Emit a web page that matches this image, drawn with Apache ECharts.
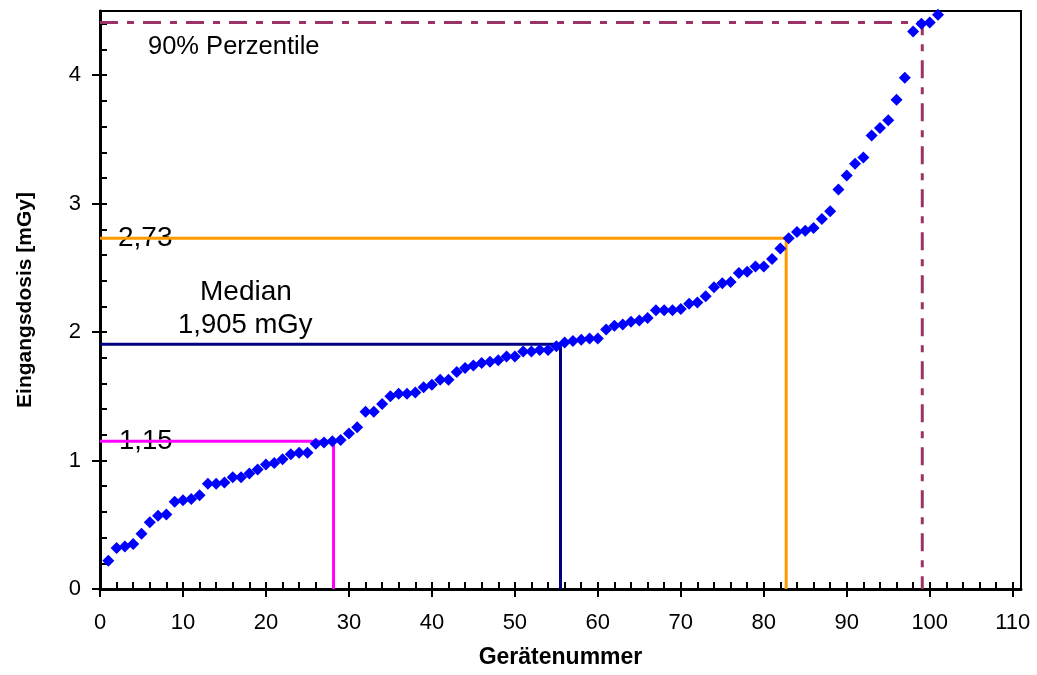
<!DOCTYPE html>
<html>
<head>
<meta charset="utf-8">
<script src="https://cdn.jsdelivr.net/npm/echarts@6/dist/echarts.min.js"></script>
<style>
  html, body { margin: 0; padding: 0; background: #fff; }
  #chart { width: 1037px; height: 675px; }
</style>
</head>
<body>
<div id="chart"></div>
<script>
// Eingangsdosis je Gerät, aufsteigend sortiert (Gerät 1..101 sichtbar)
const doseValues = [
  0.22, 0.32, 0.33, 0.35, 0.43, 0.52, 0.57, 0.58, 0.68, 0.69,
  0.70, 0.73, 0.82, 0.82, 0.83, 0.87, 0.87, 0.90, 0.93, 0.97,
  0.98, 1.01, 1.05, 1.06, 1.06, 1.13, 1.14, 1.15, 1.16, 1.21,
  1.26, 1.38, 1.38, 1.44, 1.50, 1.52, 1.52, 1.53, 1.57, 1.59,
  1.63, 1.63, 1.69, 1.72, 1.74, 1.76, 1.77, 1.78, 1.81, 1.81,
  1.85, 1.85, 1.86, 1.86, 1.89, 1.92, 1.93, 1.94, 1.95, 1.95,
  2.02, 2.05, 2.06, 2.08, 2.09, 2.11, 2.17, 2.17, 2.17, 2.18,
  2.22, 2.23, 2.28, 2.35, 2.38, 2.39, 2.46, 2.47, 2.51, 2.51,
  2.57, 2.65, 2.73, 2.78, 2.79, 2.81, 2.88, 2.94, 3.11, 3.22,
  3.31, 3.36, 3.53, 3.59, 3.65, 3.81, 3.98, 4.34, 4.40, 4.41,
  4.47
];
// [Gerätenummer, Dosis]
const quartile25 = [28.15, 1.15];
const median = [55.5, 1.905];
const quartile75 = [82.7, 2.73];
const percentile90 = [99.1, 4.41];

const xTicks = { min: 0, max: 111, major: 10, minor: 2 };
const yTicks = { min: 0, max: 4.5, major: 1, minor: 0.2 };

const font = "'Liberation Sans', Arial, sans-serif";

/** Linie von der y-Achse zum Punkt und senkrecht zur x-Achse */
function cornerLine(p) {
  return [[0, p[1]], [p[0], p[1]], [p[0], 0]];
}

function refSeries(p, color, type) {
  return {
    type: "line",
    xAxisIndex: 1,
    yAxisIndex: 1,
    data: cornerLine(p),
    symbol: "none",
    silent: true,
    z: 2,
    lineStyle: { color: color, width: 3, type: type || "solid" },
  };
}

function text(str, x, y, size) {
  return {
    type: "text",
    left: x,
    top: y - size / 2,
    style: { text: str, font: size + "px " + font, fill: "#000" },
  };
}

const chart = echarts.init(document.getElementById("chart"));
chart.setOption({
  backgroundColor: "#fff",
  animation: false,
  grid: {
    left: 100,
    right: 16,
    top: 11,
    bottom: 86,
    outerBoundsMode: "none",
    containLabel: false,
    show: true,
    borderColor: "#000",
    borderWidth: 2,
  },
  xAxis: [
    {
      // kleine Striche nach innen
      type: "value",
      position: "bottom",
      min: xTicks.min,
      max: xTicks.max,
      interval: xTicks.minor,
      axisLine: { show: true, lineStyle: { color: "#000", width: 3 } },
      axisTick: { show: true, inside: true, length: 7, lineStyle: { color: "#000", width: 2 } },
      axisLabel: { show: false },
      splitLine: { show: false },
    },
    {
      type: "value",
      position: "bottom",
      min: xTicks.min,
      max: xTicks.max,
      interval: xTicks.major,
      name: "Gerätenummer",
      nameLocation: "middle",
      nameGap: 57,
      nameTextStyle: { fontFamily: font, fontSize: 23, fontWeight: "bold", color: "#000" },
      axisLine: { show: false },
      axisTick: { show: true, inside: false, length: 8, lineStyle: { color: "#000", width: 2 } },
      axisLabel: { fontFamily: font, fontSize: 22, color: "#000", margin: 23, showMaxLabel: false },
      splitLine: { show: false },
    },
  ],
  yAxis: [
    {
      type: "value",
      position: "left",
      min: yTicks.min,
      max: yTicks.max,
      interval: yTicks.minor,
      axisLine: { show: true, lineStyle: { color: "#000", width: 3 } },
      axisTick: { show: true, inside: true, length: 7, lineStyle: { color: "#000", width: 2 } },
      axisLabel: { show: false },
      splitLine: { show: false },
    },
    {
      type: "value",
      position: "left",
      min: yTicks.min,
      max: yTicks.max,
      interval: yTicks.major,
      name: "Eingangsdosis [mGy]",
      nameLocation: "middle",
      nameGap: 64,
      nameTextStyle: { fontFamily: font, fontSize: 21, fontWeight: "bold", color: "#000" },
      axisLine: { show: false },
      axisTick: { show: true, inside: false, length: 8, lineStyle: { color: "#000", width: 2 } },
      axisLabel: { fontFamily: font, fontSize: 22, color: "#000", margin: 19, showMaxLabel: false },
      splitLine: { show: false },
    },
  ],
  series: [
    refSeries(quartile25, "#ff00ff"),
    refSeries(median, "#000080"),
    refSeries(quartile75, "#ff9900"),
    refSeries(percentile90, "#993366", [18, 9, 7, 9]),
    {
      type: "scatter",
      xAxisIndex: 1,
      yAxisIndex: 1,
      symbol: "diamond",
      symbolSize: 12,
      itemStyle: { color: "#0000ff", opacity: 1 },
      z: 5,
      data: doseValues.map((v, i) => [i + 1, v]),
    },
  ],
  graphic: [
    text("90% Perzentile", 148, 47, 25.5),
    text("2,73", 118, 238, 28),
    text("Median", 200, 292, 28),
    text("1,905 mGy", 178, 325, 27.5),
    text("1,15", 119, 441, 27.5),
  ],
});
</script>
</body>
</html>
